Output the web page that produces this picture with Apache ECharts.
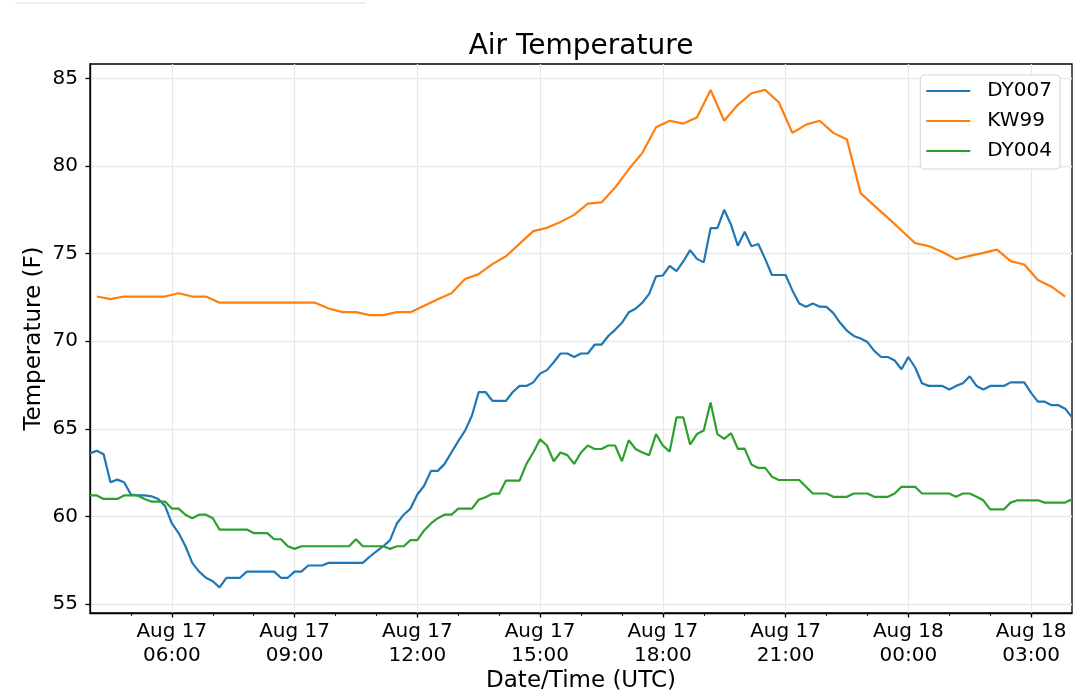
<!DOCTYPE html>
<html>
<head>
<meta charset="utf-8">
<title>Air Temperature</title>
<script src="https://cdn.jsdelivr.net/npm/echarts@6/dist/echarts.min.js"></script>
<style>
  html, body { margin: 0; padding: 0; background: #fff; }
  #chart { width: 1080px; height: 695px; }
</style>
</head>
<body>
<div id="chart"></div>
<script>
// 数据：DY 站 10 分钟一次 (Aug 17 04:00 - Aug 18 04:00)，KW99 每 20 分钟 (04:10 起)
var seriesNames = ['DY007', 'KW99', 'DY004'];
var seriesColors = ['#1f77b4', '#ff7f0e', '#2ca02c'];

var dy007 = [
  63.6, 63.75, 63.55, 61.95, 62.1, 61.95, 61.25, 61.2, 61.2, 61.15, 61.0, 60.6,
  59.6, 59.05, 58.3, 57.35, 56.85, 56.5, 56.3, 55.95, 56.5, 56.5, 56.5, 56.85,
  56.85, 56.85, 56.85, 56.85, 56.5, 56.5, 56.85, 56.85, 57.2, 57.2, 57.2, 57.35,
  57.35, 57.35, 57.35, 57.35, 57.35, 57.7, 58.0, 58.3, 58.65, 59.6, 60.1, 60.45,
  61.25, 61.75, 62.6, 62.6, 63.0, 63.65, 64.3, 64.9, 65.75, 67.1, 67.1, 66.6,
  66.6, 66.6, 67.1, 67.45, 67.45, 67.65, 68.15, 68.35, 68.8, 69.3, 69.3, 69.1,
  69.3, 69.3, 69.8, 69.8, 70.3, 70.65, 71.05, 71.65, 71.85, 72.2, 72.7, 73.7,
  73.75, 74.3, 74.0, 74.55, 75.2, 74.7, 74.5, 76.45, 76.45, 77.5, 76.65, 75.45,
  76.25, 75.42, 75.55, 74.7, 73.78, 73.78, 73.78, 72.9, 72.15, 71.97, 72.15, 71.97,
  71.96, 71.6, 71.05, 70.6, 70.3, 70.15, 69.95, 69.45, 69.1, 69.1, 68.9, 68.4,
  69.1, 68.5, 67.6, 67.45, 67.45, 67.45, 67.25, 67.45, 67.6, 68.0, 67.45, 67.25,
  67.45, 67.45, 67.45, 67.65, 67.65, 67.65, 67.05, 66.55, 66.55, 66.35, 66.35, 66.15,
  65.65
];

var dy004 = [
  61.2, 61.2, 61.0, 61.0, 61.0, 61.2, 61.2, 61.2, 61.0, 60.85, 60.85, 60.85,
  60.45, 60.45, 60.1, 59.9, 60.1, 60.1, 59.9, 59.25, 59.25, 59.25, 59.25, 59.25,
  59.05, 59.05, 59.05, 58.7, 58.7, 58.3, 58.15, 58.3, 58.3, 58.3, 58.3, 58.3,
  58.3, 58.3, 58.3, 58.7, 58.3, 58.3, 58.3, 58.3, 58.15, 58.3, 58.3, 58.65,
  58.65, 59.2, 59.6, 59.9, 60.1, 60.1, 60.45, 60.45, 60.45, 60.95, 61.1, 61.3,
  61.3, 62.05, 62.05, 62.05, 63.0, 63.65, 64.4, 64.05, 63.15, 63.65, 63.5, 63.0,
  63.65, 64.05, 63.85, 63.85, 64.05, 64.05, 63.15, 64.35, 63.85, 63.65, 63.5, 64.7,
  64.05, 63.7, 65.65, 65.65, 64.1, 64.7, 64.9, 66.5, 64.7, 64.43, 64.75, 63.86,
  63.87, 62.96, 62.77, 62.77, 62.27, 62.08, 62.08, 62.08, 62.08, 61.69, 61.31, 61.31,
  61.31, 61.12, 61.12, 61.12, 61.31, 61.31, 61.31, 61.12, 61.12, 61.12, 61.31, 61.69,
  61.69, 61.69, 61.31, 61.31, 61.31, 61.31, 61.31, 61.12, 61.31, 61.31, 61.12, 60.92,
  60.4, 60.4, 60.4, 60.79, 60.92, 60.92, 60.92, 60.92, 60.79, 60.79, 60.79, 60.79,
  60.98
];

var kw99 = [
  72.55, 72.4, 72.55, 72.55, 72.55, 72.55, 72.74, 72.55, 72.55, 72.2, 72.2, 72.2,
  72.2, 72.2, 72.2, 72.2, 72.2, 71.87, 71.66, 71.66, 71.49, 71.49, 71.66, 71.66,
  72.02, 72.4, 72.74, 73.55, 73.83, 74.4, 74.85, 75.57, 76.28, 76.47, 76.81, 77.21,
  77.85, 77.92, 78.77, 79.81, 80.75, 82.21, 82.58, 82.42, 82.77, 84.34, 82.58, 83.49,
  84.15, 84.34, 83.64, 81.89, 82.36, 82.58, 81.89, 81.51, 78.45, 77.74, 77.04, 76.32,
  75.6, 75.43, 75.09, 74.68, 74.87, 75.04, 75.23, 74.57, 74.38, 73.49, 73.11, 72.55
];

var tickLabels = [
  'Aug 17\n06:00', 'Aug 17\n09:00', 'Aug 17\n12:00', 'Aug 17\n15:00',
  'Aug 17\n18:00', 'Aug 17\n21:00', 'Aug 18\n00:00', 'Aug 18\n03:00'
];
var yTicks = [55, 60, 65, 70, 75, 80, 85];

// 时间轴类目 (10 分钟一格)
var startTime = Date.UTC(2018, 7, 17, 4, 0);
var stepMinutes = 10;
var times = [];
for (var i = 0; i < dy007.length; i++) {
  var d = new Date(startTime + i * stepMinutes * 60000);
  var hh = ('0' + d.getUTCHours()).slice(-2);
  var mm = ('0' + d.getUTCMinutes()).slice(-2);
  times.push('Aug ' + d.getUTCDate() + '\n' + hh + ':' + mm);
}

// KW99 在 04:10 起每 20 分钟 → 类目下标 1, 3, 5 ...
var kw99Data = times.map(function () { return null; });
kw99.forEach(function (v, j) { kw99Data[1 + 2 * j] = v; });

var FONT = 'DejaVu Sans';

function isMajor(index, value) {
  return tickLabels.indexOf(value) >= 0;
}
function isMinor(index, value) {
  var m = value.slice(-2);
  return m === '00' && index > 0 && index < times.length - 1;
}

var myChart = echarts.init(document.getElementById('chart'));

var option = {
  animation: false,
  backgroundColor: '#fff',
  textStyle: { fontFamily: FONT },
  title: {
    text: 'Air Temperature',
    left: 581,
    top: 33,
    padding: 0,
    textAlign: 'center',
    textStyle: { fontFamily: FONT, fontSize: 28, fontWeight: 'normal', color: '#000' }
  },
  legend: {
    data: seriesNames,
    orient: 'vertical',
    right: 20,
    top: 75,
    icon: 'rect',
    itemWidth: 44,
    itemHeight: 2.2,
    itemGap: 10,
    padding: [6, 8, 8, 6],
    backgroundColor: '#fff',
    borderColor: '#d5d5d5',
    borderWidth: 1,
    borderRadius: 4,
    textStyle: { fontFamily: FONT, fontSize: 20, lineHeight: 20, color: '#000', padding: [0, 0, 0, 12] }
  },
  grid: {
    left: 90, right: 8, top: 64, bottom: 82,
    containLabel: false,
    outerBoundsMode: 'none',
    show: true,
    borderColor: '#000',
    borderWidth: 1.3,
    backgroundColor: 'transparent'
  },
  xAxis: [
    {
      type: 'category',
      data: times,
      boundaryGap: false,
      name: 'Date/Time (UTC)',
      nameLocation: 'middle',
      nameGap: 57,
      nameMoveOverlap: false,
      nameTextStyle: { fontFamily: FONT, fontSize: 23, color: '#000' },
      axisLine: { show: true, onZero: false, lineStyle: { color: '#000', width: 1.3 } },
      axisTick: { show: true, interval: isMajor, length: 4.5, lineStyle: { color: '#000', width: 1.3 } },
      axisLabel: {
        interval: isMajor, fontFamily: FONT, fontSize: 20, lineHeight: 24,
        color: '#000', margin: 7
      },
      splitLine: { show: true, interval: isMajor, lineStyle: { color: '#e8e8e8', width: 1.3 } }
    },
    {
      type: 'category',
      data: times,
      boundaryGap: false,
      position: 'bottom',
      axisLine: { show: false, onZero: false },
      axisTick: { show: true, interval: isMinor, length: 2.8, lineStyle: { color: '#000', width: 1.1 } },
      axisLabel: { show: false },
      splitLine: { show: false }
    }
  ],
  yAxis: {
    type: 'value',
    min: 54.49,
    max: 85.82,
    name: 'Temperature (F)',
    nameLocation: 'middle',
    nameGap: 44,
    nameMoveOverlap: false,
    nameTextStyle: { fontFamily: FONT, fontSize: 23, color: '#000' },
    axisLine: { show: true, lineStyle: { color: '#000', width: 1.3 } },
    axisTick: { show: true, customValues: yTicks, length: 4.5, lineStyle: { color: '#000', width: 1.3 } },
    axisLabel: { customValues: yTicks, fontFamily: FONT, fontSize: 20, color: '#000', margin: 12 },
    splitLine: { show: true, lineStyle: { color: '#e8e8e8', width: 1.3 } }
  },
  series: [
    {
      name: seriesNames[0], type: 'line', data: dy007, symbol: 'none',
      color: seriesColors[0], lineStyle: { width: 2.2, color: seriesColors[0] }
    },
    {
      name: seriesNames[1], type: 'line', data: kw99Data, symbol: 'none', connectNulls: true,
      color: seriesColors[1], lineStyle: { width: 2.2, color: seriesColors[1] }
    },
    {
      name: seriesNames[2], type: 'line', data: dy004, symbol: 'none',
      color: seriesColors[2], lineStyle: { width: 2.2, color: seriesColors[2] }
    }
  ],
  graphic: [
    {
      type: 'line',
      shape: { x1: 15, y1: 3, x2: 366, y2: 3 },
      style: { stroke: '#f0f0f0', lineWidth: 2 },
      silent: true
    }
  ]
};

myChart.setOption(option);
</script>
</body>
</html>
